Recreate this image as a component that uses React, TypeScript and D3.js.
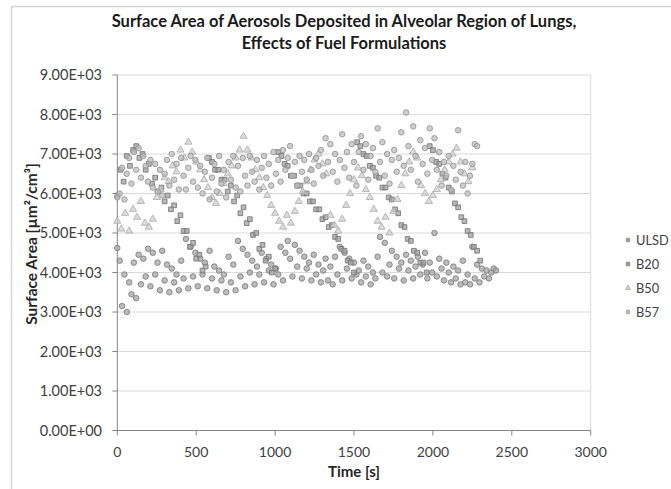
import React from "react";
import * as d3 from "d3";

const seriesNames = ["ULSD", "B20", "B50", "B57"];

const xTicks = [0, 500, 1000, 1500, 2000, 2500, 3000];
const yTicks = [0, 1000, 2000, 3000, 4000, 5000, 6000, 7000, 8000, 9000];

// [time s, surface area µm²/cm³]
const ulsd: [number, number][] = [
  [0,4620],[15,4300],[30,3150],[45,3950],[60,3000],[75,3750],[90,3450],[105,4250],[120,3350],[135,4450],
  [150,3700],[165,4350],[180,3900],[195,4600],[210,3650],[225,4500],[240,3950],[255,4250],[270,3550],[285,4550],
  [300,3800],[315,4200],[330,3500],[345,4100],[360,3750],[375,3950],[390,3550],[405,4300],[420,3850],[435,4850],
  [450,3600],[465,4650],[480,3900],[495,4500],[510,3650],[525,4350],[540,3950],[555,4250],[570,3600],[585,4550],
  [600,3850],[615,4150],[630,3550],[645,4050],[660,3800],[675,3950],[690,3500],[705,4400],[720,3750],[735,4200],
  [750,3550],[765,4800],[780,3900],[795,4600],[810,3650],[825,4450],[840,4000],[855,4300],[870,3700],[885,4150],
  [900,3950],[915,4500],[930,3750],[945,4350],[960,4050],[975,4200],[990,3700],[1005,4100],[1020,3950],[1035,4650],
  [1050,3800],[1065,4500],[1080,4800],[1095,4350],[1110,3900],[1125,4700],[1140,4150],[1155,4550],[1170,3850],[1185,4400],
  [1200,4100],[1215,4250],[1230,3800],[1245,4450],[1260,3950],[1275,4200],[1290,3750],[1305,4050],[1320,4350],[1335,3800],
  [1350,4150],[1365,3700],[1380,4400],[1395,3950],[1410,4650],[1425,3800],[1440,4500],[1455,4100],[1470,4350],[1485,3850],
  [1500,4250],[1515,3950],[1530,4050],[1545,3750],[1560,4300],[1575,3900],[1590,4150],[1605,3700],[1620,4000],[1635,3850],
  [1650,4400],[1665,4900],[1680,4000],[1695,4750],[1710,3900],[1725,4200],[1740,4550],[1755,3850],[1770,4400],[1785,4100],
  [1800,4250],[1815,3800],[1830,4450],[1845,4050],[1860,4300],[1875,3850],[1890,4150],[1905,4400],[1920,3950],[1935,4200],
  [1950,4500],[1965,3850],[1980,4250],[1995,4000],[2010,5000],[2025,3900],[2040,4350],[2055,4100],[2070,3800],[2085,4250],
  [2100,4000],[2115,3750],[2130,4150],[2145,3850],[2160,4050],[2175,3700],[2190,4300],[2205,3750],[2220,3950],[2235,3700],
  [2250,4650],[2265,3850],[2280,4200],[2295,3750],[2310,4100],[2325,3900],[2340,4050],[2355,3850],[2370,4000],[2385,4100],
  [2400,4050]
];

const b20: [number, number][] = [
  [0,5950],[20,6600],[40,6300],[60,6950],[80,6700],[100,7100],[120,7200],[140,6900],[160,7000],[180,6600],
  [200,6750],[220,6250],[240,6400],[260,6050],[280,6150],[300,5800],[320,5950],[340,5600],[360,5700],[380,5300],
  [400,5450],[420,5050],[440,5050],[460,4650],[480,4750],[500,4350],[520,4450],[540,4050],[560,4150],
  [580,6900],[600,6800],[620,6600],[640,6600],[660,6350],[680,6350],[700,6050],[720,6200],[740,5800],[760,5950],
  [780,5500],[800,5650],[820,5250],[840,5350],[860,4950],[880,5000],[900,4600],[920,4700],[940,4300],[960,4400],
  [980,4000],[1000,4100],
  [1020,7050],[1040,6950],[1060,6750],[1080,6700],[1100,6450],[1120,6450],[1140,6200],[1160,6200],[1180,6000],
  [1200,6000],[1220,5800],[1240,5800],[1260,5600],[1280,5600],[1300,5350],[1320,5400],[1340,5150],[1360,5200],
  [1380,4900],[1400,4850],[1420,4600],[1440,4550],[1460,4300],[1480,4250],[1500,4000],
  [1520,7300],[1540,7200],[1560,7000],[1580,6950],[1600,6700],[1620,6650],[1640,6450],[1660,6400],[1680,6150],
  [1700,6150],[1720,5900],[1740,5850],[1760,5600],[1780,5500],[1800,5200],[1820,5150],[1840,4850],[1860,4800],
  [1880,4550],[1900,4500],[1920,4250],[1940,4250],[1960,4000],
  [1980,7200],[2000,7100],[2020,6800],[2040,6750],[2060,6500],[2080,6400],[2100,6150],[2120,6050],[2140,5750],
  [2160,5650],[2180,5400],[2200,5300],[2220,5050],[2240,4950],[2260,4650],[2280,4550],[2300,4300]
];

const b50: [number, number][] = [
  [0,5300],[25,5100],[50,5500],[75,5050],[100,5600],[125,5400],[150,5800],[175,5250],[200,5150],[225,5350],
  [250,5900],[275,6100],[300,6400],[325,6300],[350,6700],[375,6550],[400,7100],[425,6900],[450,7300],[475,7050],
  [500,6800],[525,6600],[550,6350],[575,6150],[600,5900],[625,5750],[650,6000],[675,6250],[700,6500],[725,6700],
  [750,6900],[775,7100],[800,7450],[825,7100],[850,6900],[875,6600],[900,6400],[925,6150],[950,5950],[975,5700],
  [1000,5500],[1025,5300],[1050,5150],[1075,5450],[1100,5250],[1125,5550],[1150,5800],[1175,6050],[1200,6300],[1225,6600],
  [1250,6850],[1275,7000],[1300,6750],[1325,6500],[1350,5450],[1375,5200],[1400,5050],[1425,5350],[1450,5700],[1475,6000],
  [1500,6350],[1525,6650],[1550,6450],[1575,6100],[1600,5900],[1625,5600],[1650,5300],[1675,5150],[1700,5400],[1725,5000],
  [1750,5550],[1775,5850],[1800,6200],[1825,6500],[1850,6800],[1875,7050],[1900,6900],[1925,6200],[1950,6000],[1975,5800],
  [2000,5950],[2025,6100],[2050,6350],[2075,6600],[2100,6800],[2125,7000],[2150,7150],[2175,6800],[2200,6500],[2225,6300],
  [2250,6650]
];

const b57: [number, number][] = [
  [0,5900],[15,6000],[30,6650],[45,5850],[60,6500],[75,6900],[90,6250],[105,7050],[120,6600],[135,7150],
  [150,6400],[165,6950],[180,6700],[195,6300],[210,6850],[225,6150],[240,6750],[255,6050],[270,6600],[285,5950],
  [300,6500],[315,6850],[330,6200],[345,7000],[360,6350],[375,6750],[390,6100],[405,6900],[420,6450],[435,6100],
  [450,6650],[465,6950],[480,6300],[495,6850],[510,6150],[525,6700],[540,6000],[555,6550],[570,6900],[585,5850],
  [600,6400],[615,6750],[630,6050],[645,6950],[660,6250],[675,6600],[690,5900],[705,6800],[720,6350],[735,6950],
  [750,6150],[765,6700],[780,6050],[795,6900],[810,6450],[825,6200],[840,6950],[855,6550],[870,6300],[885,6850],
  [900,6100],[915,6650],[930,6950],[945,6400],[960,6750],[975,6200],[990,7050],[1005,6500],[1020,6850],[1035,6300],
  [1050,7100],[1065,6600],[1080,6900],[1095,7200],[1110,6450],[1125,6800],[1140,6200],[1155,6950],[1170,6550],[1185,6850],
  [1200,6350],[1215,7000],[1230,6600],[1245,6250],[1260,6900],[1275,6700],[1290,7100],[1305,6450],[1320,7400],[1335,6800],
  [1350,7250],[1365,6550],[1380,7000],[1395,6300],[1410,6850],[1425,7500],[1440,6650],[1455,7050],[1470,6400],[1485,7250],
  [1500,6800],[1515,6200],[1530,7050],[1545,7450],[1560,6600],[1575,7250],[1590,6350],[1605,6950],[1620,7150],[1635,6550],
  [1650,7650],[1665,6800],[1680,7300],[1695,6450],[1710,7000],[1725,6250],[1740,6850],[1755,7100],[1770,6550],[1785,6900],
  [1800,7550],[1815,6700],[1830,8050],[1845,7200],[1860,6600],[1875,7700],[1890,6950],[1905,6300],[1920,7350],[1935,6750],
  [1950,7150],[1965,6500],[1980,7650],[1995,6850],[2010,7400],[2025,6600],[2040,7050],[2055,6200],[2070,6800],[2085,6450],
  [2100,6950],[2115,6100],[2130,6700],[2145,6350],[2160,7600],[2175,6550],[2190,6200],[2205,6800],[2220,6000],[2235,6450],
  [2250,6750],[2265,7250],[2280,7200]
];

const W = 671;
const H = 489;
const FONT = "Lato, 'Open Sans', sans-serif";

const styles = [
  { data: ulsd, shape: d3.symbolCircle, size: 24, fill: "#a6a6a6", stroke: "#7f7f7f" },
  { data: b20, shape: d3.symbolSquare, size: 22, fill: "#a0a0a0", stroke: "#7a7a7a" },
  { data: b50, shape: d3.symbolTriangle, size: 22, fill: "#d0d0d0", stroke: "#b0b0b0" },
  { data: b57, shape: d3.symbolCircle, size: 24, fill: "#bdbdbd", stroke: "#969696" },
];

export default function App() {
  const x = d3.scaleLinear().domain([0, 3000]).range([117.3, 590.7]);
  const y = d3.scaleLinear().domain([0, 9000]).range([430.5, 75]);
  const x0 = x(0);
  const x1 = x(3000);
  const legendY = [240, 264, 288, 312];

  return (
    <svg width={W} height={H} style={{ position: "absolute", left: 0, top: 0, background: "#fff" }} fontFamily={FONT}>
      <rect x={0} y={0} width={W} height={H} fill="#fff" />
      {/* chart area border */}
      <line x1={11.5} y1={6} x2={11.5} y2={H} stroke="#d4d4d4" strokeWidth={1.5} />
      <line x1={11.5} y1={6.5} x2={W} y2={6.5} stroke="#d4d4d4" strokeWidth={1.5} />

      {/* title */}
      <text x={344} y={27} textAnchor="middle" fontSize={16.5} fontWeight="bold" fill="#1a1a1a">
        Surface Area of Aerosols Deposited in Alveolar Region of Lungs,
      </text>
      <text x={344} y={49} textAnchor="middle" fontSize={16.5} fontWeight="bold" fill="#1a1a1a">
        Effects of Fuel Formulations
      </text>

      {/* gridlines */}
      {yTicks.filter((t) => t > 0).map((t) => (
        <line key={"g" + t} x1={x0} x2={x1} y1={y(t)} y2={y(t)} stroke="#d9d9d9" strokeWidth={1} />
      ))}
      <line x1={x1} x2={x1} y1={y(9000)} y2={y(0)} stroke="#d9d9d9" strokeWidth={1} />

      {/* axes */}
      <line x1={x0} x2={x0} y1={y(9000)} y2={y(0)} stroke="#868686" strokeWidth={1} />
      <line x1={x0} x2={x1} y1={y(0)} y2={y(0)} stroke="#868686" strokeWidth={1} />
      {yTicks.map((t) => (
        <g key={"yt" + t}>
          <line x1={x0 - 5} x2={x0} y1={y(t)} y2={y(t)} stroke="#868686" />
          <text x={102} y={y(t) + 5} textAnchor="end" fontSize={14.5} fill="#404040">
            {t.toExponential(2).toUpperCase().replace("E+", "E+0")}
          </text>
        </g>
      ))}
      {xTicks.map((t) => (
        <g key={"xt" + t}>
          <line x1={x(t)} x2={x(t)} y1={y(0)} y2={y(0) + 5} stroke="#868686" />
          <text x={x(t)} y={457} textAnchor="middle" fontSize={14} fill="#404040">
            {t}
          </text>
        </g>
      ))}

      {/* axis titles */}
      <text x={(x0 + x1) / 2} y={477} textAnchor="middle" fontSize={15} fontWeight="bold" fill="#262626">
        Time [s]
      </text>
      <text
        transform={`translate(37,244) rotate(-90)`}
        textAnchor="middle"
        fontSize={15.5}
        fontWeight="bold"
        fill="#262626"
      >
        Surface Area [µm²/cm³]
      </text>

      {/* points */}
      {styles.map((s, i) => {
        const path = d3.symbol().type(s.shape).size(s.size)() as string;
        return (
          <g key={"s" + i}>
            {s.data.map(([t, v], j) => (
              <path
                key={j}
                d={path}
                transform={`translate(${x(t)},${y(v)})`}
                fill={s.fill}
                fillOpacity={0.75}
                stroke={s.stroke}
                strokeWidth={0.9}
              />
            ))}
          </g>
        );
      })}

      {/* legend */}
      {styles.map((s, i) => {
        const path = d3.symbol().type(s.shape).size(12)() as string;
        return (
          <g key={"l" + i}>
            <path d={path} transform={`translate(628,${legendY[i]})`} fill={s.fill} stroke={s.stroke} strokeWidth={0.8} />
            <text x={636} y={legendY[i] + 4.5} fontSize={12.8} fill="#404040">
              {seriesNames[i]}
            </text>
          </g>
        );
      })}
    </svg>
  );
}
